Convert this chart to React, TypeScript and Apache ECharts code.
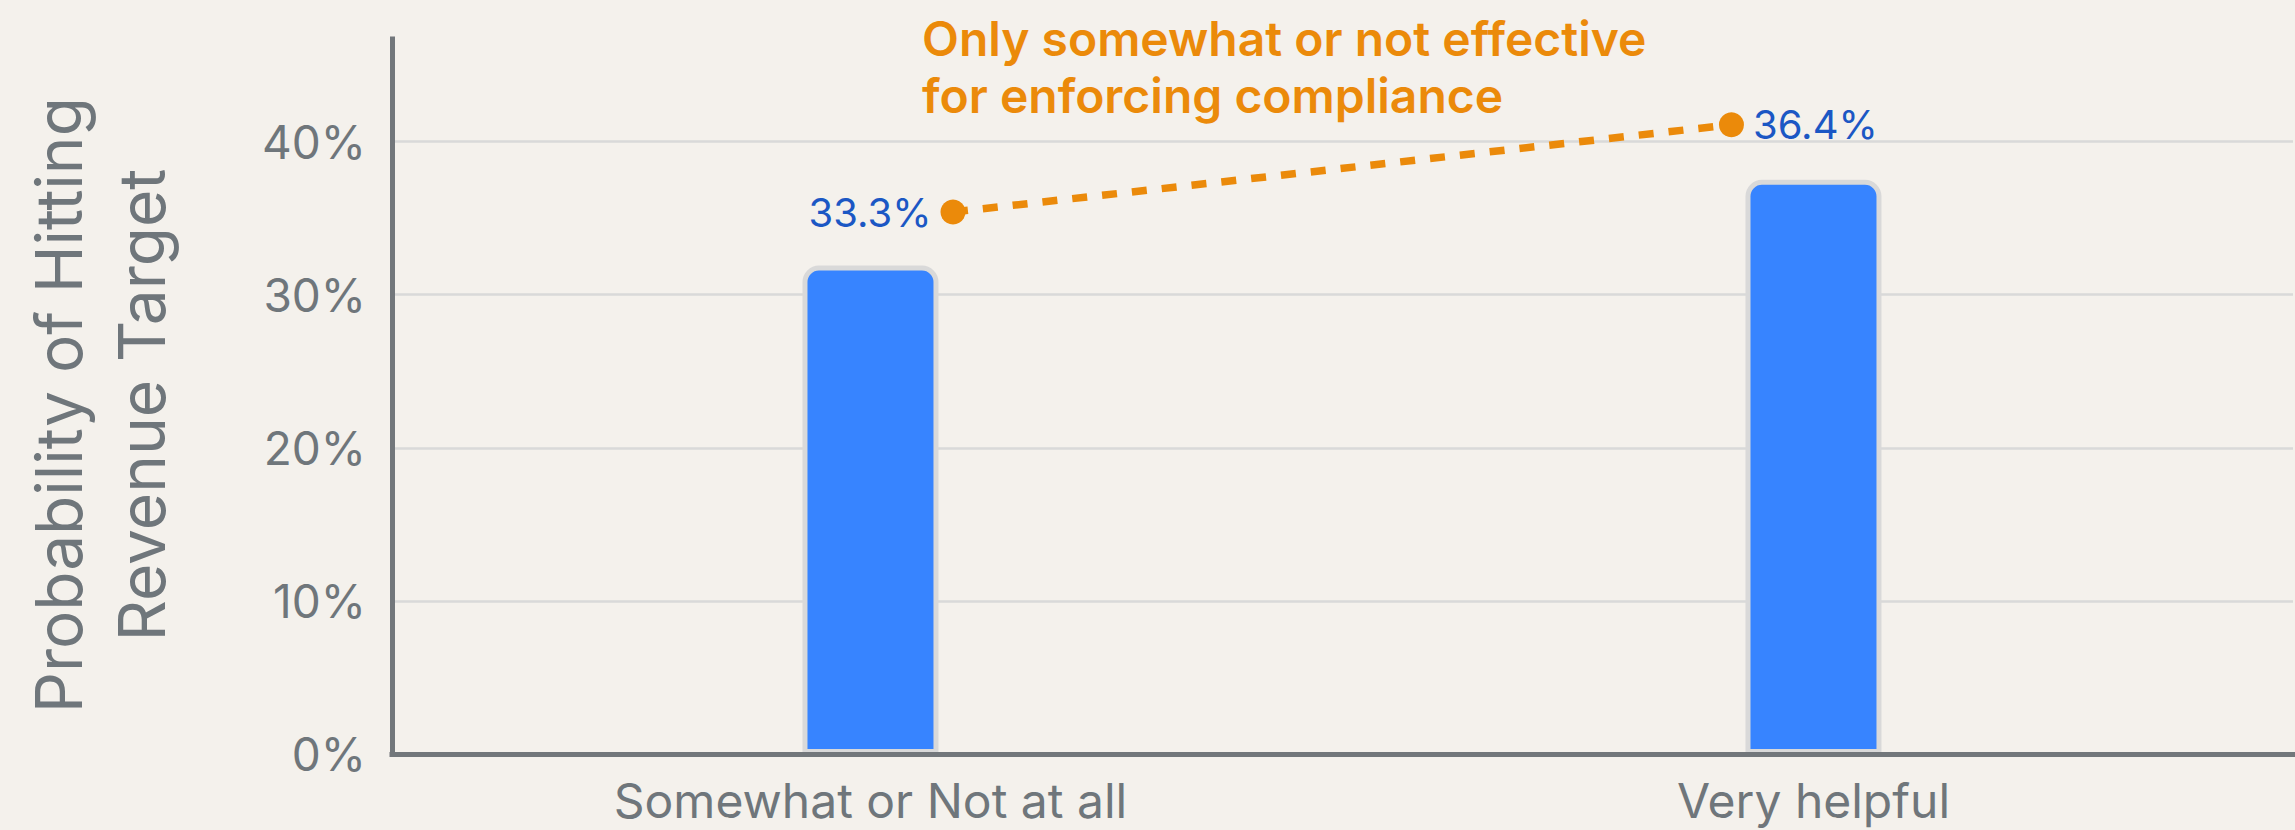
import React, { useEffect, useRef } from "react";
import * as echarts from "echarts";

const categories = ["Somewhat or Not at all", "Very helpful"];
const categoryPositions = [0, 1];
const barValues = [31.9, 37.5];
const trendPositions = [0.0875, 0.913];
const trendValues = [35.4, 41.1];
const trendLabels = ["33.3%", "36.4%"];
const trendLabelSides = ["left", "right"];
const yTickStep = 10;
const yMax = 46.7;
const yAxisTitle = "Probability of Hitting\nRevenue Target";
const annotationText = "Only somewhat or not effective\nfor enforcing compliance";

const GRAY = "#6F767B";
const AXIS = "#72777B";
const GRID = "#D9D9D9";
const BLUE = "#3784FF";
const LABEL_BLUE = "#1B57C4";
const ORANGE = "#EB8A0A";
const BG = "#F4F1EC";
const FONT = "Inter, 'Noto Sans', sans-serif";

export default function App() {
  const ref = useRef<HTMLDivElement>(null);
  useEffect(() => {
    if (!ref.current) return;
    const chart = echarts.init(ref.current, null, { renderer: "svg" });
    const option: any = {
      animation: false,
      backgroundColor: BG,
      textStyle: { fontFamily: FONT },
      grid: { left: 392, right: 2, top: 39, bottom: 76, containLabel: false },
      xAxis: {
        type: "value",
        min: -0.5074,
        max: 1.5085,
        z: 10,
        axisLine: { show: true, onZero: false, lineStyle: { color: AXIS, width: 5, cap: "square" } },
        axisTick: { show: false },
        splitLine: { show: false },
        axisLabel: {
          customValues: categoryPositions,
          formatter: (v: number) => {
            const i = categoryPositions.indexOf(v);
            return i >= 0 ? categories[i] : "";
          },
          fontSize: 48,
          lineHeight: 44,
          fontFamily: FONT,
          color: GRAY,
          margin: 24,
        },
      },
      yAxis: {
        type: "value",
        min: 0,
        max: yMax,
        interval: yTickStep,
        axisLine: { show: true, onZero: false, lineStyle: { color: AXIS, width: 5, cap: "square" } },
        axisTick: { show: false },
        splitLine: { show: true, showMaxLine: false, lineStyle: { color: GRID, width: 2.5 } },
        axisLabel: {
          showMaxLabel: false,
          formatter: (v: number) => (v % yTickStep === 0 ? `${v}%` : ""),
          fontSize: 46,
          fontFamily: FONT,
          color: GRAY,
          margin: 26,
        },
      },
      series: [
        {
          type: "bar",
          data: categoryPositions.map((p, i) => [p, barValues[i]]),
          barWidth: 136,
          itemStyle: {
            color: BLUE,
            borderColor: GRID,
            borderWidth: 5,
            borderRadius: [14, 14, 0, 0],
          },
          z: 2,
        },
        {
          type: "line",
          data: trendPositions.map((p, i) => ({
            value: [p, trendValues[i]],
            label: { position: trendLabelSides[i] },
          })),
          symbol: "circle",
          symbolSize: 25,
          itemStyle: { color: ORANGE },
          lineStyle: { color: ORANGE, width: 7.5, type: [15, 15] },
          label: {
            show: true,
            formatter: (p: any) => trendLabels[p.dataIndex],
            fontSize: 40,
            fontFamily: FONT,
            color: LABEL_BLUE,
            distance: 9,
          },
          z: 5,
        },
      ],
      graphic: [
        {
          type: "text",
          x: 100,
          y: 405,
          rotation: Math.PI / 2,
          style: {
            text: yAxisTitle,
            fontSize: 64,
            fontFamily: FONT,
            lineHeight: 83,
            fill: GRAY,
            align: "center",
            verticalAlign: "middle",
          },
        },
        {
          type: "text",
          x: 922,
          y: 10,
          style: {
            text: annotationText,
            fontSize: 48,
            fontWeight: 600,
            fontFamily: FONT,
            lineHeight: 57,
            fill: ORANGE,
            align: "left",
            verticalAlign: "top",
          },
        },
      ],
    };
    chart.setOption(option);
    return () => chart.dispose();
  }, []);
  return (
    <div
      ref={ref}
      style={{ position: "absolute", left: 0, top: 0, width: 2295, height: 830 }}
    />
  );
}
